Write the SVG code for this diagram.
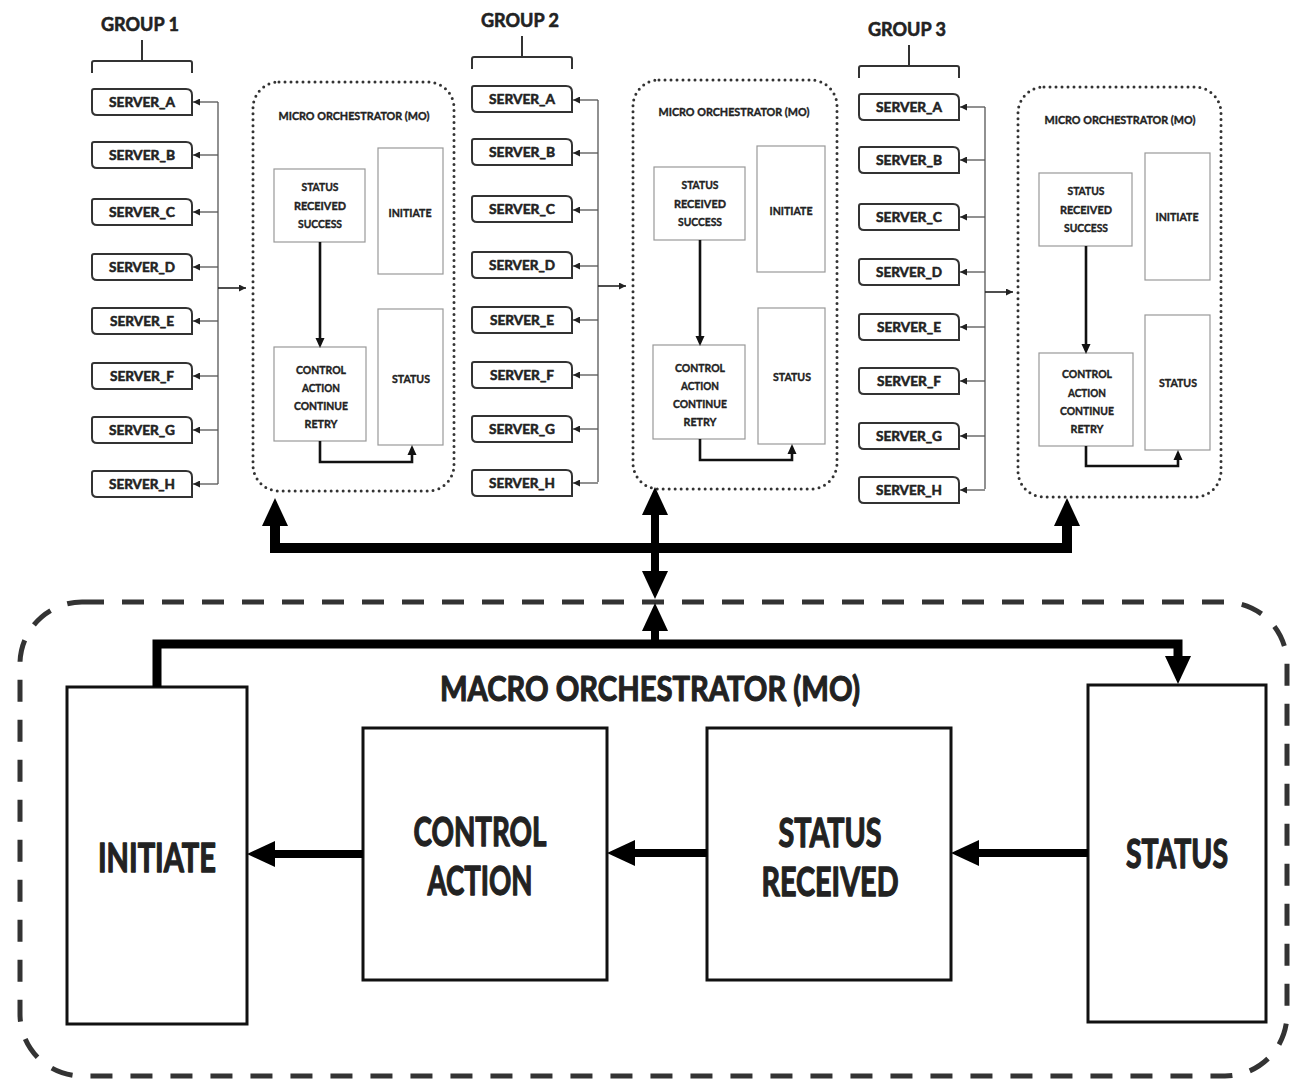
<svg xmlns="http://www.w3.org/2000/svg" width="1291" height="1082" viewBox="0 0 1291 1082">
  <defs>
    <style>
      text { font-family: "Lato", "Liberation Sans", sans-serif; font-weight: 700; fill: #222; stroke: #222; stroke-width: 0.45; stroke-linejoin: round; text-anchor: middle; }
      .grp { font-size: 19px; stroke-width: 0.6; }
      .srvt { font-size: 13.5px; stroke-width: 0.55; }
      .mot { font-size: 12px; stroke-width: 0.4; }
      .sm { font-size: 12px; stroke-width: 0.4; }
      .big { font-size: 40px; stroke-width: 1.3; }
      .title { font-size: 34px; stroke-width: 1.1; }
      .srv { fill: #fff; stroke: #333; stroke-width: 2; }
      .brk { fill: none; stroke: #333; stroke-width: 2; }
      .mo { fill: none; stroke: #333; stroke-width: 3; stroke-dasharray: 0 6; stroke-linecap: round; }
      .inner { fill: #fff; stroke: #999; stroke-width: 1.2; }
      .macro { fill: #fff; stroke: #111; stroke-width: 3; }
      .frame { fill: none; stroke: #333; stroke-width: 5; stroke-dasharray: 22 18; }
      .thin { fill: none; stroke: #555; stroke-width: 1.3; }
      .mid { fill: none; stroke: #111; stroke-width: 2.6; }
      .thick { fill: none; stroke: #000; stroke-linejoin: miter; }
    </style>
    <marker id="tip-sm" viewBox="0 0 8 8" refX="8" refY="4" markerWidth="8" markerHeight="7" markerUnits="userSpaceOnUse" orient="auto">
      <path d="M0,0 L8,4 L0,8 z" fill="#222"/>
    </marker>
    <marker id="tip-md" viewBox="0 -5 10 10" refX="0" refY="0" markerWidth="10" markerHeight="10" markerUnits="userSpaceOnUse" orient="auto">
      <path d="M0,-4.5 L10,0 L0,4.5 z" fill="#111"/>
    </marker>
    <marker id="tip-lg" viewBox="0 -13 28 26" refX="0" refY="0" markerWidth="28" markerHeight="26" markerUnits="userSpaceOnUse" orient="auto-start-reverse">
      <path d="M0,-13 L28,0 L0,13 z" fill="#000"/>
    </marker>
    <path id="srv-shape" d="M0,2 Q0,0 2,0 H94 Q100,0 100,6 V26 H5 Q0,26 0,21 Z"/>
  </defs>

  <rect width="1291" height="1082" fill="#fff"/>

  <!-- Cluster 1 -->
  <g id="cluster-1">
    <g id="c1-header">
      <text class="grp" x="140" y="31" textLength="78" lengthAdjust="spacingAndGlyphs">GROUP 1</text>
      <path class="brk" d="M92,73 V63 Q92,61 94,61 H190 Q192,61 192,63 V73 M142,61 V40"/>
    </g>
    <g id="c1-server-a"><use href="#srv-shape" class="srv" x="92" y="89"/><text class="srvt" x="142" y="107" textLength="66" lengthAdjust="spacingAndGlyphs">SERVER_A</text></g>
    <g id="c1-server-b"><use href="#srv-shape" class="srv" x="92" y="142"/><text class="srvt" x="142" y="160" textLength="66" lengthAdjust="spacingAndGlyphs">SERVER_B</text></g>
    <g id="c1-server-c"><use href="#srv-shape" class="srv" x="92" y="199"/><text class="srvt" x="142" y="217" textLength="66" lengthAdjust="spacingAndGlyphs">SERVER_C</text></g>
    <g id="c1-server-d"><use href="#srv-shape" class="srv" x="92" y="254"/><text class="srvt" x="142" y="272" textLength="66" lengthAdjust="spacingAndGlyphs">SERVER_D</text></g>
    <g id="c1-server-e"><use href="#srv-shape" class="srv" x="92" y="308"/><text class="srvt" x="142" y="326" textLength="64" lengthAdjust="spacingAndGlyphs">SERVER_E</text></g>
    <g id="c1-server-f"><use href="#srv-shape" class="srv" x="92" y="363"/><text class="srvt" x="142" y="381" textLength="64" lengthAdjust="spacingAndGlyphs">SERVER_F</text></g>
    <g id="c1-server-g"><use href="#srv-shape" class="srv" x="92" y="417"/><text class="srvt" x="142" y="435" textLength="66" lengthAdjust="spacingAndGlyphs">SERVER_G</text></g>
    <g id="c1-server-h"><use href="#srv-shape" class="srv" x="92" y="471"/><text class="srvt" x="142" y="489" textLength="66" lengthAdjust="spacingAndGlyphs">SERVER_H</text></g>
    <g id="c1-micro">
      <rect class="mo" x="253" y="82" width="201" height="409" rx="26"/>
      <text class="mot" x="354" y="120" textLength="151" lengthAdjust="spacingAndGlyphs">MICRO ORCHESTRATOR (MO)</text>
      <g id="c1-status-received">
        <rect class="inner" x="274" y="169" width="91" height="73"/>
        <text class="sm" x="320" y="191" textLength="37" lengthAdjust="spacingAndGlyphs">STATUS</text>
        <text class="sm" x="320" y="210" textLength="52" lengthAdjust="spacingAndGlyphs">RECEIVED</text>
        <text class="sm" x="320" y="228" textLength="44" lengthAdjust="spacingAndGlyphs">SUCCESS</text>
      </g>
      <g id="c1-initiate">
        <rect class="inner" x="378" y="148" width="65" height="126"/>
        <text class="sm" x="410" y="217" textLength="43" lengthAdjust="spacingAndGlyphs">INITIATE</text>
      </g>
      <g id="c1-control">
        <rect class="inner" x="274" y="347" width="92" height="94"/>
        <text class="sm" x="321" y="374" textLength="50" lengthAdjust="spacingAndGlyphs">CONTROL</text>
        <text class="sm" x="321" y="392" textLength="38" lengthAdjust="spacingAndGlyphs">ACTION</text>
        <text class="sm" x="321" y="410" textLength="54" lengthAdjust="spacingAndGlyphs">CONTINUE</text>
        <text class="sm" x="321" y="428" textLength="33" lengthAdjust="spacingAndGlyphs">RETRY</text>
      </g>
      <g id="c1-status">
        <rect class="inner" x="378" y="309" width="65" height="136"/>
        <text class="sm" x="411" y="383" textLength="38" lengthAdjust="spacingAndGlyphs">STATUS</text>
      </g>
    </g>
  </g>

  <!-- Cluster 2 -->
  <g id="cluster-2" transform="translate(380,-2)">
    <g id="c2-header">
      <text class="grp" x="140" y="29" textLength="78" lengthAdjust="spacingAndGlyphs">GROUP 2</text>
      <path class="brk" d="M92,71 V61 Q92,59 94,59 H190 Q192,59 192,61 V71 M142,59 V38"/>
    </g>
    <g id="c2-server-a"><use href="#srv-shape" class="srv" x="92" y="88"/><text class="srvt" x="142" y="106" textLength="66" lengthAdjust="spacingAndGlyphs">SERVER_A</text></g>
    <g id="c2-server-b"><use href="#srv-shape" class="srv" x="92" y="141"/><text class="srvt" x="142" y="159" textLength="66" lengthAdjust="spacingAndGlyphs">SERVER_B</text></g>
    <g id="c2-server-c"><use href="#srv-shape" class="srv" x="92" y="198"/><text class="srvt" x="142" y="216" textLength="66" lengthAdjust="spacingAndGlyphs">SERVER_C</text></g>
    <g id="c2-server-d"><use href="#srv-shape" class="srv" x="92" y="254"/><text class="srvt" x="142" y="272" textLength="66" lengthAdjust="spacingAndGlyphs">SERVER_D</text></g>
    <g id="c2-server-e"><use href="#srv-shape" class="srv" x="92" y="309"/><text class="srvt" x="142" y="327" textLength="64" lengthAdjust="spacingAndGlyphs">SERVER_E</text></g>
    <g id="c2-server-f"><use href="#srv-shape" class="srv" x="92" y="364"/><text class="srvt" x="142" y="382" textLength="64" lengthAdjust="spacingAndGlyphs">SERVER_F</text></g>
    <g id="c2-server-g"><use href="#srv-shape" class="srv" x="92" y="418"/><text class="srvt" x="142" y="436" textLength="66" lengthAdjust="spacingAndGlyphs">SERVER_G</text></g>
    <g id="c2-server-h"><use href="#srv-shape" class="srv" x="92" y="472"/><text class="srvt" x="142" y="490" textLength="66" lengthAdjust="spacingAndGlyphs">SERVER_H</text></g>
    <g id="c2-micro">
      <rect class="mo" x="253" y="82" width="204" height="409" rx="26"/>
      <text class="mot" x="354" y="118" textLength="151" lengthAdjust="spacingAndGlyphs">MICRO ORCHESTRATOR (MO)</text>
      <g id="c2-status-received">
        <rect class="inner" x="274" y="169" width="91" height="73"/>
        <text class="sm" x="320" y="191" textLength="37" lengthAdjust="spacingAndGlyphs">STATUS</text>
        <text class="sm" x="320" y="210" textLength="52" lengthAdjust="spacingAndGlyphs">RECEIVED</text>
        <text class="sm" x="320" y="228" textLength="44" lengthAdjust="spacingAndGlyphs">SUCCESS</text>
      </g>
      <g id="c2-initiate">
        <rect class="inner" x="377" y="148" width="68" height="126"/>
        <text class="sm" x="411" y="217" textLength="43" lengthAdjust="spacingAndGlyphs">INITIATE</text>
      </g>
      <g id="c2-control">
        <rect class="inner" x="273" y="347" width="92" height="94"/>
        <text class="sm" x="320" y="374" textLength="50" lengthAdjust="spacingAndGlyphs">CONTROL</text>
        <text class="sm" x="320" y="392" textLength="38" lengthAdjust="spacingAndGlyphs">ACTION</text>
        <text class="sm" x="320" y="410" textLength="54" lengthAdjust="spacingAndGlyphs">CONTINUE</text>
        <text class="sm" x="320" y="428" textLength="33" lengthAdjust="spacingAndGlyphs">RETRY</text>
      </g>
      <g id="c2-status">
        <rect class="inner" x="378" y="310" width="67" height="136"/>
        <text class="sm" x="412" y="383" textLength="38" lengthAdjust="spacingAndGlyphs">STATUS</text>
      </g>
    </g>
  </g>

  <!-- Cluster 3 -->
  <g id="cluster-3" transform="translate(767,5)">
    <g id="c3-header">
      <text class="grp" x="140" y="31" textLength="78" lengthAdjust="spacingAndGlyphs">GROUP 3</text>
      <path class="brk" d="M92,73 V63 Q92,61 94,61 H190 Q192,61 192,63 V73 M142,61 V40"/>
    </g>
    <g id="c3-server-a"><use href="#srv-shape" class="srv" x="92" y="89"/><text class="srvt" x="142" y="107" textLength="66" lengthAdjust="spacingAndGlyphs">SERVER_A</text></g>
    <g id="c3-server-b"><use href="#srv-shape" class="srv" x="92" y="142"/><text class="srvt" x="142" y="160" textLength="66" lengthAdjust="spacingAndGlyphs">SERVER_B</text></g>
    <g id="c3-server-c"><use href="#srv-shape" class="srv" x="92" y="199"/><text class="srvt" x="142" y="217" textLength="66" lengthAdjust="spacingAndGlyphs">SERVER_C</text></g>
    <g id="c3-server-d"><use href="#srv-shape" class="srv" x="92" y="254"/><text class="srvt" x="142" y="272" textLength="66" lengthAdjust="spacingAndGlyphs">SERVER_D</text></g>
    <g id="c3-server-e"><use href="#srv-shape" class="srv" x="92" y="309"/><text class="srvt" x="142" y="327" textLength="64" lengthAdjust="spacingAndGlyphs">SERVER_E</text></g>
    <g id="c3-server-f"><use href="#srv-shape" class="srv" x="92" y="363"/><text class="srvt" x="142" y="381" textLength="64" lengthAdjust="spacingAndGlyphs">SERVER_F</text></g>
    <g id="c3-server-g"><use href="#srv-shape" class="srv" x="92" y="418"/><text class="srvt" x="142" y="436" textLength="66" lengthAdjust="spacingAndGlyphs">SERVER_G</text></g>
    <g id="c3-server-h"><use href="#srv-shape" class="srv" x="92" y="472"/><text class="srvt" x="142" y="490" textLength="66" lengthAdjust="spacingAndGlyphs">SERVER_H</text></g>
    <g id="c3-micro">
      <rect class="mo" x="251" y="82" width="203" height="410" rx="26"/>
      <text class="mot" x="353" y="119" textLength="151" lengthAdjust="spacingAndGlyphs">MICRO ORCHESTRATOR (MO)</text>
      <g id="c3-status-received">
        <rect class="inner" x="272" y="168" width="93" height="73"/>
        <text class="sm" x="319" y="190" textLength="37" lengthAdjust="spacingAndGlyphs">STATUS</text>
        <text class="sm" x="319" y="209" textLength="52" lengthAdjust="spacingAndGlyphs">RECEIVED</text>
        <text class="sm" x="319" y="227" textLength="44" lengthAdjust="spacingAndGlyphs">SUCCESS</text>
      </g>
      <g id="c3-initiate">
        <rect class="inner" x="378" y="148" width="65" height="127"/>
        <text class="sm" x="410" y="216" textLength="43" lengthAdjust="spacingAndGlyphs">INITIATE</text>
      </g>
      <g id="c3-control">
        <rect class="inner" x="272" y="348" width="94" height="93"/>
        <text class="sm" x="320" y="373" textLength="50" lengthAdjust="spacingAndGlyphs">CONTROL</text>
        <text class="sm" x="320" y="392" textLength="38" lengthAdjust="spacingAndGlyphs">ACTION</text>
        <text class="sm" x="320" y="410" textLength="54" lengthAdjust="spacingAndGlyphs">CONTINUE</text>
        <text class="sm" x="320" y="428" textLength="33" lengthAdjust="spacingAndGlyphs">RETRY</text>
      </g>
      <g id="c3-status">
        <rect class="inner" x="378" y="310" width="65" height="135"/>
        <text class="sm" x="411" y="382" textLength="38" lengthAdjust="spacingAndGlyphs">STATUS</text>
      </g>
    </g>
  </g>

  <!-- Macro orchestrator -->
  <g id="macro-orchestrator">
    <rect class="frame" x="20" y="602" width="1267" height="474" rx="62"/>
    <text class="title" x="650" y="701" textLength="420" lengthAdjust="spacingAndGlyphs">MACRO ORCHESTRATOR (MO)</text>
    <g id="macro-initiate">
      <rect class="macro" x="67" y="687" width="180" height="337"/>
      <text class="big" x="157" y="872" textLength="118" lengthAdjust="spacingAndGlyphs">INITIATE</text>
    </g>
    <g id="macro-control-action">
      <rect class="macro" x="363" y="728" width="244" height="252"/>
      <text class="big" x="480" y="846" textLength="133" lengthAdjust="spacingAndGlyphs">CONTROL</text>
      <text class="big" x="480" y="895" textLength="105" lengthAdjust="spacingAndGlyphs">ACTION</text>
    </g>
    <g id="macro-status-received">
      <rect class="macro" x="707" y="728" width="244" height="252"/>
      <text class="big" x="830" y="847" textLength="103" lengthAdjust="spacingAndGlyphs">STATUS</text>
      <text class="big" x="830" y="896" textLength="137" lengthAdjust="spacingAndGlyphs">RECEIVED</text>
    </g>
    <g id="macro-status">
      <rect class="macro" x="1088" y="685" width="178" height="337"/>
      <text class="big" x="1177" y="868" textLength="102" lengthAdjust="spacingAndGlyphs">STATUS</text>
    </g>
  </g>

  <!-- Connectors -->
  <g id="connectors">
    <g id="c1-links">
      <path class="thin" d="M218,102 V484"/>
      <path class="thin" d="M218,102 H193" marker-end="url(#tip-sm)"/>
      <path class="thin" d="M218,155 H193" marker-end="url(#tip-sm)"/>
      <path class="thin" d="M218,212 H193" marker-end="url(#tip-sm)"/>
      <path class="thin" d="M218,267 H193" marker-end="url(#tip-sm)"/>
      <path class="thin" d="M218,321 H193" marker-end="url(#tip-sm)"/>
      <path class="thin" d="M218,376 H193" marker-end="url(#tip-sm)"/>
      <path class="thin" d="M218,430 H193" marker-end="url(#tip-sm)"/>
      <path class="thin" d="M218,484 H193" marker-end="url(#tip-sm)"/>
      <path class="thin" d="M218,288 H246" marker-end="url(#tip-sm)" style="stroke:#222;stroke-width:1.6"/>
      <path class="mid" d="M320,242 V338" marker-end="url(#tip-md)"/>
      <path class="mid" d="M320,441 V462 H412 V455" marker-end="url(#tip-md)"/>
    </g>
    <g id="c2-links" transform="translate(380,-2)">
      <path class="thin" d="M218,102 V484"/>
      <path class="thin" d="M218,102 H193" marker-end="url(#tip-sm)"/>
      <path class="thin" d="M218,155 H193" marker-end="url(#tip-sm)"/>
      <path class="thin" d="M218,212 H193" marker-end="url(#tip-sm)"/>
      <path class="thin" d="M218,268 H193" marker-end="url(#tip-sm)"/>
      <path class="thin" d="M218,322 H193" marker-end="url(#tip-sm)"/>
      <path class="thin" d="M218,377 H193" marker-end="url(#tip-sm)"/>
      <path class="thin" d="M218,431 H193" marker-end="url(#tip-sm)"/>
      <path class="thin" d="M218,485 H193" marker-end="url(#tip-sm)"/>
      <path class="thin" d="M218,288 H246" marker-end="url(#tip-sm)" style="stroke:#222;stroke-width:1.6"/>
      <path class="mid" d="M320,242 V338" marker-end="url(#tip-md)"/>
      <path class="mid" d="M320,441 V462 H412 V456" marker-end="url(#tip-md)"/>
    </g>
    <g id="c3-links" transform="translate(767,5)">
      <path class="thin" d="M218,102 V484"/>
      <path class="thin" d="M218,102 H193" marker-end="url(#tip-sm)"/>
      <path class="thin" d="M218,155 H193" marker-end="url(#tip-sm)"/>
      <path class="thin" d="M218,212 H193" marker-end="url(#tip-sm)"/>
      <path class="thin" d="M218,267 H193" marker-end="url(#tip-sm)"/>
      <path class="thin" d="M218,322 H193" marker-end="url(#tip-sm)"/>
      <path class="thin" d="M218,376 H193" marker-end="url(#tip-sm)"/>
      <path class="thin" d="M218,431 H193" marker-end="url(#tip-sm)"/>
      <path class="thin" d="M218,485 H193" marker-end="url(#tip-sm)"/>
      <path class="thin" d="M218,287 H246" marker-end="url(#tip-sm)" style="stroke:#222;stroke-width:1.6"/>
      <path class="mid" d="M319,241 V339" marker-end="url(#tip-md)"/>
      <path class="mid" d="M319,441 V461 H411 V455" marker-end="url(#tip-md)"/>
    </g>
    <!-- bus linking the three micro orchestrators -->
    <path class="thick" style="stroke-width:10" d="M275,526 V548 H1067 V526" marker-start="url(#tip-lg)" marker-end="url(#tip-lg)"/>
    <!-- two-way link between the bus and the macro orchestrator -->
    <path class="thick" style="stroke-width:8" d="M655,515 V571" marker-start="url(#tip-lg)" marker-end="url(#tip-lg)"/>
    <path class="thick" style="stroke-width:8" d="M655,644 V631" marker-end="url(#tip-lg)"/>
    <!-- initiate to status loop -->
    <path class="thick" style="stroke-width:9" d="M157,687 V644 H1178 V656" marker-end="url(#tip-lg)"/>
    <!-- flow between macro stages -->
    <path class="thick" style="stroke-width:8" d="M363,854 H275" marker-end="url(#tip-lg)"/>
    <path class="thick" style="stroke-width:8" d="M707,853 H635" marker-end="url(#tip-lg)"/>
    <path class="thick" style="stroke-width:8" d="M1088,853 H979" marker-end="url(#tip-lg)"/>
  </g>
</svg>
